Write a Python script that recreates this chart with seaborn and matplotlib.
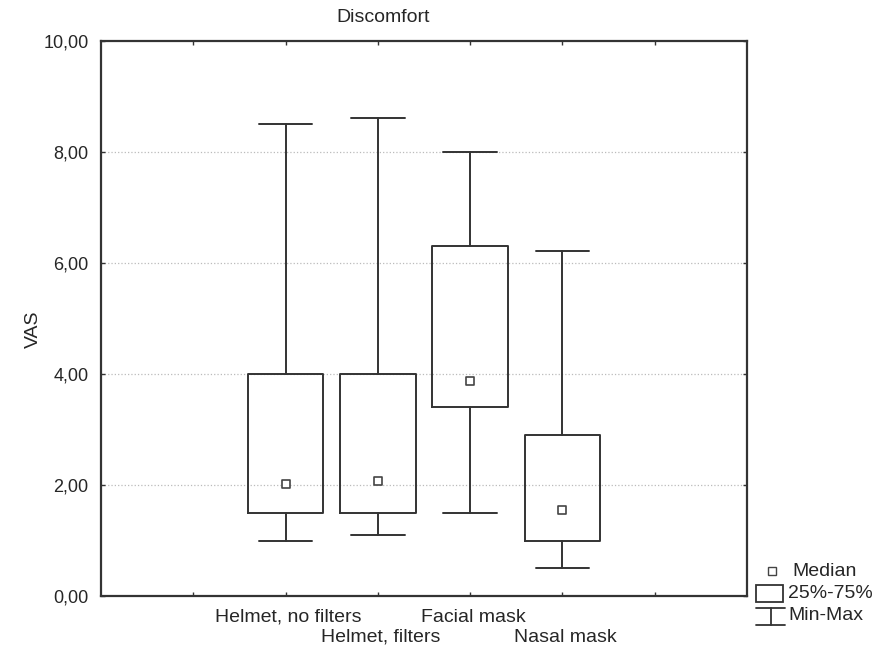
import matplotlib
matplotlib.use("Agg")
import matplotlib.pyplot as plt
import seaborn as sns
from matplotlib.lines import Line2D
from matplotlib.patches import Rectangle

# -------------------------
# data
# -------------------------
groups = ["Helmet, no filters", "Helmet, filters", "Facial mask", "Nasal mask"]
vmin = [1.00, 1.10, 1.50, 0.50]
q1 = [1.50, 1.50, 3.40, 1.00]
median = [2.02, 2.07, 3.87, 1.55]
q3 = [4.00, 4.00, 6.30, 2.90]
vmax = [8.50, 8.62, 8.00, 6.22]
positions = [2, 3, 4, 5]

sns.set_style("white")
plt.rcParams["font.family"] = ["Liberation Sans", "DejaVu Sans"]

line_col = "#333333"
fs = 14

fig = plt.figure(figsize=(8.9, 6.48), dpi=100)
ax = fig.add_axes([101 / 890, 1 - 596 / 648, 646 / 890, 555 / 648])

stats = []
for g, lo, a, m, b, hi in zip(groups, vmin, q1, median, q3, vmax):
    stats.append({"label": g, "whislo": lo, "q1": a, "med": m, "q3": b, "whishi": hi, "fliers": []})

ax.bxp(stats, positions=positions, widths=0.82, showfliers=False,
       boxprops=dict(color=line_col, linewidth=1.4),
       whiskerprops=dict(color=line_col, linewidth=1.4),
       capprops=dict(color=line_col, linewidth=1.4),
       medianprops=dict(linewidth=0), capwidths=0.58, manage_ticks=False)

sns.scatterplot(x=positions, y=median, marker="s", s=40, color="white",
                edgecolor="#444444", linewidth=1.2, ax=ax, zorder=5)

ax.set_xlim(0, 7)
ax.set_ylim(0, 10)
ax.set_yticks([0, 2, 4, 6, 8, 10])
ax.set_yticklabels(["0,00", "2,00", "4,00", "6,00", "8,00", "10,00"], fontsize=13)
ax.set_xticks([1, 2, 3, 4, 5, 6])
ax.set_xticklabels([])
ax.tick_params(direction="in", length=3, width=1, color=line_col, pad=9,
               top=True, right=True, bottom=True, left=True)
for y in [2, 4, 6, 8]:
    ax.axhline(y, color="#bbbbbb", linestyle=":", linewidth=0.9, zorder=0)
for s in ax.spines.values():
    s.set_color(line_col)
    s.set_linewidth(1.6)

# staggered category labels
for i, (p, g) in enumerate(zip(positions, groups)):
    off = 0.038 if i % 2 == 0 else 0.074
    ax.text(p + 0.03, -off, g, transform=ax.get_xaxis_transform(), ha="center",
            va="center", fontsize=fs)

ax.set_ylabel("VAS", fontsize=fs)
ax.yaxis.set_label_coords(-0.092, 0.48)
fig.text(383 / 890, 1 - 17 / 648, "Discomfort", ha="center", va="center", fontsize=fs)

# legend drawn in figure coords, bottom right
fig.add_artist(Line2D([772 / 890], [1 - 571 / 648], marker="s", markersize=6,
                      markerfacecolor="white", markeredgecolor="#444444", linestyle="none"))
fig.text(792 / 890, 1 - 571 / 648, "Median", va="center", fontsize=fs)
fig.add_artist(Rectangle((756 / 890, 1 - 602 / 648), 27 / 890, 17 / 648,
                         facecolor="white", edgecolor=line_col, linewidth=1.3))
fig.text(788 / 890, 1 - 594 / 648, "25%-75%", va="center", fontsize=fs)
fig.add_artist(Line2D([756 / 890, 785 / 890], [1 - 608 / 648] * 2, color=line_col, linewidth=1.3))
fig.add_artist(Line2D([756 / 890, 785 / 890], [1 - 625 / 648] * 2, color=line_col, linewidth=1.3))
fig.add_artist(Line2D([770.5 / 890, 770.5 / 890], [1 - 608 / 648, 1 - 625 / 648], color=line_col, linewidth=1.3))
fig.text(788 / 890, 1 - 616 / 648, "Min-Max", va="center", fontsize=fs)

fig.savefig("out.png", dpi=100)
